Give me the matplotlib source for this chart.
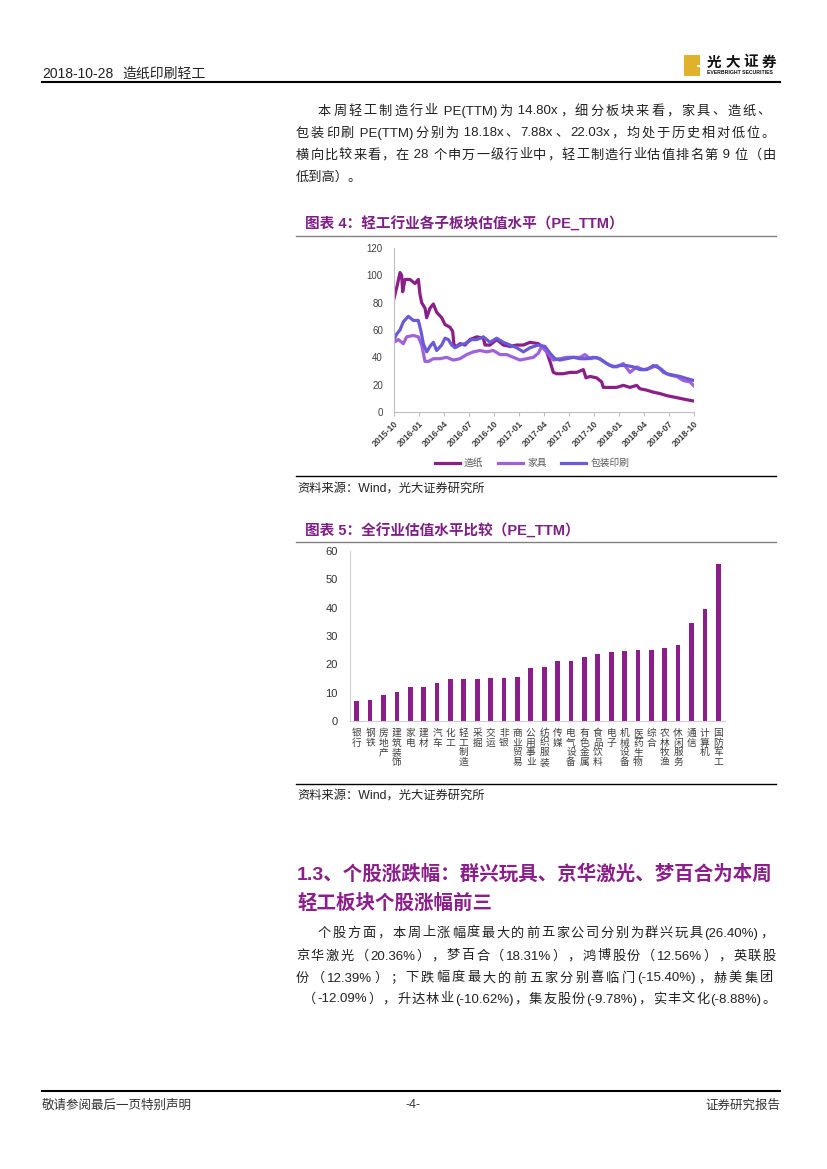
import re
import matplotlib
matplotlib.use('Agg')
import matplotlib.pyplot as plt
from matplotlib.lines import Line2D
from matplotlib.patches import Rectangle

W, H = 827, 1169
plt.rcParams['font.family'] = ['Liberation Sans', 'Noto Sans CJK SC']

# ---- 图表4 数据 (月份偏移, 自 2015-10 起) ----
month_labels = ['2015-10', '2016-01', '2016-04', '2016-07', '2016-10', '2017-01', '2017-04',
                '2017-07', '2017-10', '2018-01', '2018-04', '2018-07', '2018-10']

paper_x = [0, 0.4, 0.72, 0.92, 1.04, 1.32, 1.92, 2.52, 2.92, 3.12, 3.32, 3.72, 3.92, 4.32, 4.72,
           5.12, 5.72, 6.12, 6.72, 7.04, 7.2, 7.52, 7.92, 8.52, 9.12, 9.92, 10.72, 10.92, 11.52,
           12.32, 13.12, 13.92, 14.72, 15.52, 16.32, 17.32, 17.92, 18.32, 18.72, 19.12, 19.52,
           20.32, 21.12, 21.92, 22.72, 23.04, 23.52, 24.32, 24.92, 25.12, 25.92, 26.72, 27.52,
           28.32, 29.12, 29.52, 30.32, 31.12, 31.92, 32.72, 33.52, 34.32, 35.12, 36]
paper_y = [83, 93, 102, 100, 88, 97, 97, 94, 97, 86, 80, 76, 69, 76, 79,
           73, 69, 64, 62, 59, 49, 48, 50, 49, 53, 55, 54, 49, 49,
           53, 49, 48, 49, 49, 51, 50, 47, 44, 37, 29, 28,
           28, 29, 29, 31, 25, 26, 25, 22, 18, 18, 18, 19.5,
           18, 19.5, 17, 16, 14.5, 13.5, 12, 11, 10, 9, 8]

furn_x = [0, 0.52, 1.12, 1.52, 2.32, 2.92, 3.32, 3.72, 4.12, 4.72, 5.52, 6.32, 7.12, 7.92, 8.72,
          9.52, 10.32, 11.12, 11.92, 12.72, 13.52, 14.32, 15.12, 15.92, 16.72, 17.32, 17.72,
          18.32, 19.12, 19.92, 20.72, 21.52, 22.32, 22.92, 23.52, 24.32, 25.12, 25.92, 26.72,
          27.52, 28.32, 29.12, 29.92, 30.72, 31.52, 32.32, 33.12, 33.92, 34.72, 35.52, 36]
furn_y = [51, 53, 50, 55, 56, 55, 49, 37, 37, 39, 39, 40, 38, 39, 42,
          44, 45, 44, 45, 42, 42, 40, 38, 39, 40, 43, 48,
          44, 38, 39, 40, 40, 40, 42, 39, 40, 37, 34, 33,
          35.5, 29, 33, 31, 32, 34, 29, 27, 26, 23, 22, 19]

pack_x = [0, 0.32, 0.72, 1.12, 1.72, 2.32, 2.92, 3.24, 3.52, 3.92, 4.32, 4.72, 5.12, 5.72, 6.12,
          6.52, 6.92, 7.32, 7.92, 8.52, 9.32, 9.92, 10.72, 11.52, 12.32, 13.12, 13.92, 14.72,
          15.52, 16.32, 17.32, 18.12, 18.72, 19.32, 19.92, 20.72, 21.52, 22.32, 23.12, 23.92,
          24.72, 25.52, 26.32, 27.12, 27.92, 28.72, 29.52, 30.32, 31.12, 31.92, 32.72, 33.52,
          34.32, 35.12, 36]
pack_y = [53, 57, 60, 66, 70, 67, 67, 59, 50, 44, 48, 51, 45, 49, 54,
          53, 49, 47, 49, 50, 53, 53, 55, 51, 54, 51, 49, 47,
          44, 47, 49, 48, 43, 39, 38, 39, 40, 39, 39, 40,
          39, 35.5, 33, 34, 34, 33, 31, 31, 34, 32, 28, 27,
          26, 24.5, 23]

# ---- 图表5 数据 ----
industries = ['银行', '钢铁', '房地产', '建筑装饰', '家电', '建材', '汽车', '化工', '轻工制造', '采掘',
              '交运', '非银', '商业贸易', '公用事业', '纺织服装', '传媒', '电气设备', '有色金属',
              '食品饮料', '电子', '机械设备', '医药生物', '综合', '农林牧渔', '休闲服务', '通信',
              '计算机', '国防军工']
pe_values = [6.9, 7.4, 9.3, 10.2, 12.0, 12.0, 13.3, 15.0, 14.8, 15.0,
             15.2, 15.2, 15.7, 18.8, 19.2, 21.2, 21.2, 22.6,
             23.6, 24.3, 24.8, 25.0, 25.0, 25.8, 26.9, 34.6,
             39.5, 55.5]

para1 = ['本周轻工制造行业 PE(TTM)为 14.80x，细分板块来看，家具、造纸、',
         '包装印刷 PE(TTM)分别为 18.18x、7.88x、22.03x，均处于历史相对低位。',
         '横向比较来看，在 28 个申万一级行业中，轻工制造行业估值排名第 9 位（由',
         '低到高）。']
para2 = ['个股方面，本周上涨幅度最大的前五家公司分别为群兴玩具(26.40%)，',
         '京华激光（20.36%），梦百合（18.31%），鸿博股份（12.56%），英联股',
         '份（12.39%）；下跌幅度最大的前五家分别喜临门(-15.40%)，赫美集团',
         '（-12.09%），升达林业(-10.62%)，集友股份(-9.78%)，实丰文化(-8.88%)。']

fig = plt.figure(figsize=(8.27, 11.69), dpi=100)
renderer = fig.canvas.get_renderer()


def fx(x):
    return x / W


def fy(y):
    return 1 - y / H


def txt(x, y, s, **kw):
    kw.setdefault('va', 'center_baseline')
    return fig.text(fx(x), fy(y), s, **kw)


def hline(x0, x1, y, color='black', lw=1.0):
    fig.add_artist(Line2D([fx(x0), fx(x1)], [fy(y), fy(y)], color=color, lw=lw,
                          transform=fig.transFigure))


def justify(x0, x1, y, s, size=9.5, color='#222222', **kw):
    # 两端对齐: 每个汉字单独放, 西文连成一段
    parts = re.findall(r'[\x20-\x7e]+|.', s)
    objs = [txt(x0, y, p, fontsize=size, color=color, **kw) for p in parts]
    widths = [o.get_window_extent(renderer).width for o in objs]
    gap = (x1 - x0 - sum(widths)) / max(len(parts) - 1, 1)
    x = x0
    for o, w in zip(objs, widths):
        o.set_x(fx(x))
        x += w + gap


# 页眉
txt(42, 72, '2018-10-28', fontsize=10, color='#222222')
txt(122, 72, '造纸印刷轻工', fontsize=10, color='#222222')
hline(42, 780, 82, lw=1.5)
fig.add_artist(Rectangle((fx(684), fy(76)), 16 / W, 21 / H, transform=fig.transFigure,
                         color='#E0B12A', lw=0))
fig.add_artist(Rectangle((fx(697), fy(66.5)), 3 / W, 2 / H, transform=fig.transFigure,
                         color='white', lw=0))
justify(707, 776, 61, '光大证券', size=10.5, color='#111111', fontweight='bold')
txt(707, 72, 'EVERBRIGHT SECURITIES', fontsize=3.7, fontweight='bold', color='#111111')

# 正文段落 1
justify(318, 771, 110, para1[0])
justify(296, 775, 132, para1[1])
justify(296, 776, 154, para1[2])
txt(296, 176, para1[3], fontsize=9.5, color='#222222')

# ---- 图表 4 ----
purple = '#7F1F86'
txt(305, 223, '图表 4：轻工行业各子板块估值水平（PE_TTM）', fontsize=10.5, fontweight='bold', color=purple)
hline(296, 776, 236, color='#808080', lw=1)

ax1 = fig.add_axes([fx(394), fy(412), 300 / W, 164 / H])
ax1.plot(paper_x, paper_y, color='#8B1F87', lw=2.3, label='造纸')
ax1.plot(furn_x, furn_y, color='#A062DA', lw=2.3, label='家具')
ax1.plot(pack_x, pack_y, color='#6A5AD8', lw=2.3, label='包装印刷')
ax1.set_xlim(0, 36)
ax1.set_ylim(0, 120)
ax1.set_yticks(range(0, 121, 20))
ax1.set_xticks(range(0, 37, 3))
ax1.set_xticklabels(month_labels, rotation=45, ha='right', rotation_mode='anchor',
                    fontweight='bold')
for s in ['top', 'right']:
    ax1.spines[s].set_visible(False)
for s in ['left', 'bottom']:
    ax1.spines[s].set_color('#BFBFBF')
ax1.tick_params(axis='y', length=0, pad=8, labelsize=7, labelcolor='#404040')
ax1.tick_params(axis='x', length=3, color='#BFBFBF', pad=2, labelsize=6.3, labelcolor='#404040')
ax1.set_facecolor('none')
h, l = ax1.get_legend_handles_labels()
fig.legend(h, l, loc='center', bbox_to_anchor=(fx(532), fy(463)), ncol=3, frameon=False,
           fontsize=7, handlelength=2.6, columnspacing=1.5, handletextpad=0.4, labelcolor='#595959')

hline(296, 776, 476, lw=1)
txt(297, 487, '资料来源：Wind，光大证券研究所', fontsize=8.8, color='#222222')

# ---- 图表 5 ----
txt(305, 530, '图表 5：全行业估值水平比较（PE_TTM）', fontsize=10.5, fontweight='bold', color=purple)
hline(296, 776, 542, color='#808080', lw=1)

ax2 = fig.add_axes([fx(350), fy(721), 375 / W, 170 / H])
ax2.bar(range(len(industries)), pe_values, width=0.35, color='#8B1E8B')
ax2.set_xlim(-0.5, len(industries) - 0.5)
ax2.set_ylim(0, 60)
ax2.set_yticks(range(0, 61, 10))
ax2.set_xticks(range(len(industries)))
ax2.set_xticklabels(['\n'.join(n) for n in industries], va='top', linespacing=0.95)
for s in ['top', 'right']:
    ax2.spines[s].set_visible(False)
for s in ['left', 'bottom']:
    ax2.spines[s].set_color('#D0D0D0')
ax2.tick_params(axis='y', length=0, pad=9, labelsize=8, labelcolor='#333333')
ax2.tick_params(axis='x', length=0, pad=5, labelsize=7, labelcolor='#404040')
ax2.set_facecolor('none')

hline(296, 776, 784, lw=1)
txt(297, 794, '资料来源：Wind，光大证券研究所', fontsize=8.8, color='#222222')

# 小节标题
txt(297, 872, '1.3、个股涨跌幅：群兴玩具、京华激光、梦百合为本周', fontsize=14, fontweight='bold',
    color='#8B1E8B')
txt(297, 901, '轻工板块个股涨幅前三', fontsize=14, fontweight='bold', color='#8B1E8B')

# 正文段落 2
justify(318, 773, 932, para2[0])
justify(296, 776, 955, para2[1])
justify(296, 773, 977, para2[2])
justify(303, 776, 998, para2[3])

# 页脚
hline(42, 780, 1091, lw=1.5)
txt(42, 1104, '敬请参阅最后一页特别声明', fontsize=9, color='#333333')
txt(413, 1104, '-4-', fontsize=9, color='#333333', ha='center')
txt(780, 1104, '证券研究报告', fontsize=9, color='#333333', ha='right')

fig.savefig('out.png', dpi=100)
